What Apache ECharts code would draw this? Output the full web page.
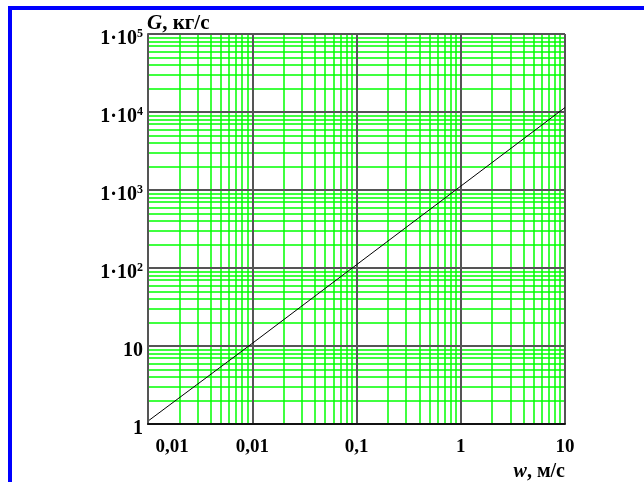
<!DOCTYPE html>
<html>
<head>
<meta charset="utf-8">
<script src="https://cdn.jsdelivr.net/npm/echarts@6/dist/echarts.min.js"></script>
<style>
  html, body { margin: 0; padding: 0; background: #fff; }
  #chart { width: 644px; height: 482px; }
</style>
</head>
<body>
<div id="chart"></div>
<script>
// данные
const w = [0.001, 0.01, 0.1, 1, 10];
const G = [1.09, 10.8, 110, 1120, 11400];
const xTickLabels = ["0,01", "0,01", "0,1", "1", "10"];
const yTickLabels = ["1", "10", "1·10{s|2}", "1·10{s|3}", "1·10{s|4}", "1·10{s|5}"];
// сетка: декады и промежуточные деления 2..9
const xDecades = [0.001, 0.01, 0.1, 1, 10];
const yDecades = [1, 10, 100, 1000, 10000, 100000];
const minorSteps = [2, 3, 4, 5, 6, 7, 8, 9];
const xRange = [0.001, 10];
const yRange = [1, 100000];

const font = "'Liberation Serif', 'Times New Roman', serif";

let minorLines = [];
let majorLines = [];
xDecades.forEach((d, k) => {
  majorLines.push({ coords: [[d, yRange[0]], [d, yRange[1]]] });
  if (k < xDecades.length - 1) {
    minorSteps.forEach(m => minorLines.push({ coords: [[d * m, yRange[0]], [d * m, yRange[1]]] }));
  }
});
yDecades.forEach((d, k) => {
  majorLines.push({ coords: [[xRange[0], d], [xRange[1], d]] });
  if (k < yDecades.length - 1) {
    minorSteps.forEach(m => minorLines.push({ coords: [[xRange[0], d * m], [xRange[1], d * m]] }));
  }
});

let chart = echarts.init(document.getElementById("chart"));
let option = {
  animation: false,
  title: {
    text: "{i|G}{n|, кг/с}",
    left: 147,
    top: 13,
    padding: 0,
    textStyle: {
      rich: {
        i: { fontFamily: font, fontSize: 21, fontWeight: "bold", fontStyle: "italic", color: "#000" },
        n: { fontFamily: font, fontSize: 21, fontWeight: "bold", color: "#000" },
      },
    },
  },
  grid: {
    left: 148,
    top: 34,
    right: 79,
    bottom: 55,
  },
  graphic: [
    { type: "line", shape: { x1: 10, y1: 8, x2: 10, y2: 482 }, style: { stroke: "#0000ff", lineWidth: 4 } },
    { type: "line", shape: { x1: 8, y1: 8, x2: 644, y2: 8 }, style: { stroke: "#0000ff", lineWidth: 4 } },
  ],
  xAxis: {
    type: "log",
    logBase: 10,
    min: xRange[0],
    max: xRange[1],
    z: 10,
    name: "{i|w}{n|, м/с}",
    nameLocation: "end",
    nameGap: 0,
    nameTextStyle: {
      align: "right",
      verticalAlign: "top",
      padding: [38, 0, 0, 0],
      rich: {
        i: { fontFamily: font, fontSize: 20, fontWeight: "bold", fontStyle: "italic", color: "#000" },
        n: { fontFamily: font, fontSize: 20, fontWeight: "bold", color: "#000" },
      },
    },
    axisLine: { lineStyle: { color: "#111", width: 2 } },
    axisTick: { show: false },
    splitLine: { show: false },
    axisLabel: {
      margin: 14,
      fontFamily: font,
      fontSize: 19,
      fontWeight: "bold",
      color: "#000",
      formatter: function (v) {
        let i = Math.round(Math.log10(v)) + 3;
        return i === 0 ? "{f|" + xTickLabels[0] + "}" : xTickLabels[i];
      },
      rich: {
        f: { fontFamily: font, fontSize: 19, fontWeight: "bold", color: "#000", padding: [0, 0, 0, 48] },
      },
    },
  },
  yAxis: {
    type: "log",
    logBase: 10,
    min: yRange[0],
    max: yRange[1],
    z: 10,
    axisLine: { show: true, lineStyle: { color: "#555", width: 2 } },
    axisTick: { show: false },
    splitLine: { show: false },
    axisLabel: {
      margin: 5,
      fontFamily: font,
      fontSize: 20,
      fontWeight: "bold",
      color: "#000",
      lineHeight: 22,
      padding: [10, 0, 0, 0],
      formatter: function (v) {
        return yTickLabels[Math.round(Math.log10(v))];
      },
      rich: {
        s: { fontFamily: font, fontSize: 12, fontWeight: "bold", color: "#000", verticalAlign: "top", lineHeight: 12 },
      },
    },
  },
  series: [
    {
      // тонкая зелёная сетка
      type: "lines",
      coordinateSystem: "cartesian2d",
      silent: true,
      z: 1,
      lineStyle: { color: "#00ff00", width: 1.5, opacity: 1 },
      data: minorLines,
    },
    {
      // декады
      type: "lines",
      coordinateSystem: "cartesian2d",
      silent: true,
      z: 2,
      lineStyle: { color: "#555", width: 2, opacity: 1 },
      data: majorLines,
    },
    {
      type: "line",
      data: w.map((x, i) => [x, G[i]]),
      showSymbol: false,
      z: 5,
      lineStyle: { color: "#000", width: 1 },
    },
  ],
};
chart.setOption(option);
</script>
</body>
</html>
